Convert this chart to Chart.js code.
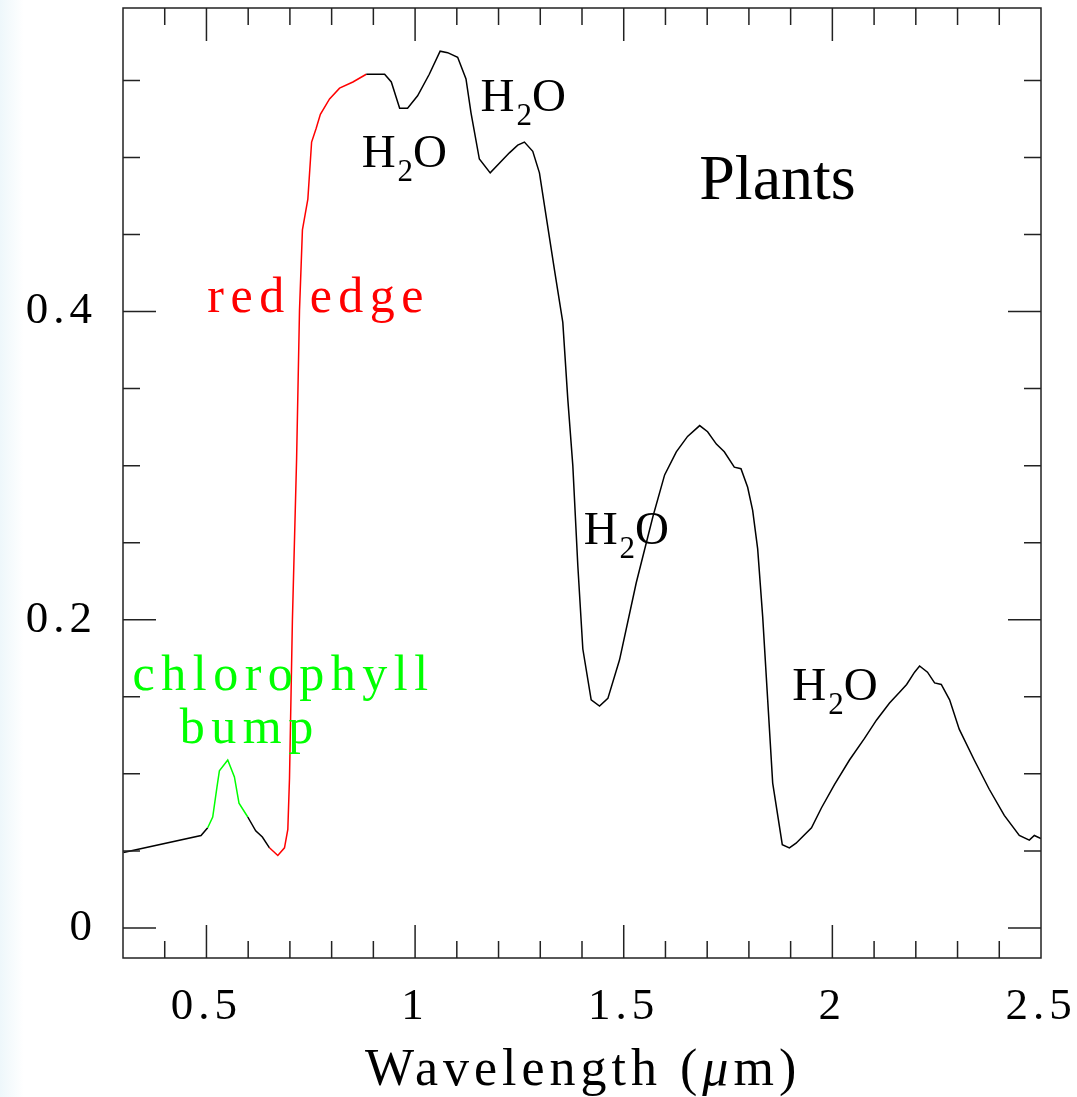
<!DOCTYPE html>
<html lang="en">
<head>
<meta charset="UTF-8">
<title>Plants</title>
<style>
    html, body { margin: 0; padding: 0; background: #fff; }
    canvas { display: block; }
</style>
</head>
<body>
<canvas id="myChart" width="1077" height="1097"></canvas>
<script src="https://cdn.jsdelivr.net/npm/chart.js"></script>
<script>
    // reflectance spectrum
    const wavelength = [
        0.301, 0.487, 0.503, 0.515, 0.525, 0.531, 0.551, 0.567, 0.578, 0.599,
        0.618, 0.634, 0.651, 0.671, 0.687, 0.695, 0.699, 0.706, 0.716, 0.723,
        0.730, 0.743, 0.752, 0.763, 0.773, 0.795, 0.819, 0.851, 0.883, 0.927,
        0.943, 0.963, 0.982, 1.006, 1.034, 1.060, 1.078, 1.102, 1.122, 1.134,
        1.154, 1.180, 1.226, 1.246, 1.262, 1.282, 1.298, 1.314, 1.334, 1.354,
        1.366, 1.378, 1.390, 1.402, 1.422, 1.442, 1.462, 1.490, 1.530, 1.570,
        1.598, 1.626, 1.653, 1.682, 1.701, 1.722, 1.741, 1.765, 1.781, 1.797,
        1.809, 1.821, 1.833, 1.845, 1.857, 1.880, 1.897, 1.913, 1.950, 1.974,
        2.005, 2.041, 2.077, 2.106, 2.137, 2.161, 2.178, 2.197, 2.209, 2.228,
        2.245, 2.261, 2.281, 2.304, 2.340, 2.376, 2.412, 2.448, 2.472, 2.484,
        2.500
    ];
    const reflectance = [
        0.049, 0.060, 0.065, 0.072, 0.091, 0.102, 0.109, 0.098, 0.081, 0.072,
        0.063, 0.059, 0.052, 0.047, 0.052, 0.064, 0.097, 0.200, 0.304, 0.401,
        0.453, 0.473, 0.510, 0.519, 0.528, 0.538, 0.545, 0.549, 0.554, 0.554,
        0.549, 0.532, 0.532, 0.540, 0.554, 0.569, 0.568, 0.565, 0.551, 0.529,
        0.499, 0.490, 0.503, 0.508, 0.510, 0.504, 0.490, 0.462, 0.427, 0.393,
        0.343, 0.300, 0.235, 0.181, 0.148, 0.144, 0.149, 0.174, 0.224, 0.267,
        0.294, 0.309, 0.319, 0.326, 0.322, 0.314, 0.309, 0.299, 0.298, 0.286,
        0.271, 0.246, 0.202, 0.148, 0.094, 0.054, 0.052, 0.055, 0.065, 0.078,
        0.093, 0.109, 0.123, 0.135, 0.146, 0.153, 0.158, 0.166, 0.170, 0.166,
        0.159, 0.158, 0.148, 0.129, 0.109, 0.090, 0.073, 0.060, 0.057, 0.060,
        0.058
    ];
    const xTickLabels = [0.5, 1, 1.5, 2, 2.5];
    const yTickLabels = [0, 0.2, 0.4];
    const greenRange = [0.5, 0.59];
    const redRange = [0.65, 0.87];

    // annotations: text and where it sits (data units, left/baseline)
    const h2oSpots = [[0.872, 0.494], [1.157, 0.530], [1.404, 0.249], [1.904, 0.148]];
    const notes = [
        { text: 'red edge', x: 0.502, y: 0.400, color: '#ff0000' },
        { text: 'chlorophyll', x: 0.323, y: 0.1545, color: '#00ff00' },
        { text: 'bump', x: 0.436, y: 0.120, color: '#00ff00' }
    ];
    const title = { text: 'Plants', x: 1.681, y: 0.473 };

    const points = wavelength.map((w, i) => ({ x: w, y: reflectance[i] }));

    function segColor(c) {
        const x = c.p0.parsed.x;
        if (x >= greenRange[0] && x < greenRange[1]) return '#00ff00';
        if (x >= redRange[0] && x < redRange[1]) return '#ff0000';
        return '#000000';
    }

    const serif = '"Liberation Serif", "Times New Roman", serif';

    function noPad(s) {
        s.paddingTop = 0; s.paddingBottom = 0;
        s.paddingLeft = 0; s.paddingRight = 0;
    }

    const framePlugin = {
        id: 'framePlugin',
        beforeDraw(chart) {
            const ctx = chart.ctx;
            ctx.save();
            const g = ctx.createLinearGradient(0, 0, 24, 0);
            g.addColorStop(0, '#eef7fb');
            g.addColorStop(1, '#ffffff');
            ctx.fillStyle = g;
            ctx.fillRect(0, 0, 24, chart.height);
            ctx.restore();
            ctx.letterSpacing = '5px';
        },
        afterDatasetsDraw(chart) {
            const { ctx, chartArea: a, scales: { x, y } } = chart;
            ctx.save();
            ctx.strokeStyle = '#222';
            ctx.lineWidth = 1.5;
            ctx.strokeRect(a.left, a.top, a.right - a.left, a.bottom - a.top);
            ctx.beginPath();
            for (let i = 4; i < 25; i++) {
                const px = x.getPixelForValue(i / 10);
                const len = i % 5 === 0 ? 33 : 17;
                ctx.moveTo(px, a.bottom); ctx.lineTo(px, a.bottom - len);
                ctx.moveTo(px, a.top); ctx.lineTo(px, a.top + len);
            }
            for (let i = 0; i <= 11; i++) {
                const py = y.getPixelForValue(i * 0.05);
                const len = i % 4 === 0 ? 33 : 17;
                ctx.moveTo(a.left, py); ctx.lineTo(a.left + len, py);
                ctx.moveTo(a.right, py); ctx.lineTo(a.right - len, py);
            }
            ctx.stroke();

            ctx.textAlign = 'left';
            ctx.textBaseline = 'alphabetic';

            // H2O labels
            ctx.fillStyle = '#000';
            ctx.letterSpacing = '0px';
            h2oSpots.forEach(([wx, wy]) => {
                let px = x.getPixelForValue(wx);
                const py = y.getPixelForValue(wy);
                ctx.font = '47px ' + serif;
                ctx.fillText('H', px, py);
                px += ctx.measureText('H').width + 2;
                ctx.font = '31px ' + serif;
                ctx.fillText('2', px, py + 14);
                px += ctx.measureText('2').width;
                ctx.font = '47px ' + serif;
                ctx.fillText('O', px, py);
            });

            // coloured notes
            ctx.font = '50px ' + serif;
            ctx.letterSpacing = '6.5px';
            notes.forEach(n => {
                ctx.fillStyle = n.color;
                ctx.fillText(n.text, x.getPixelForValue(n.x), y.getPixelForValue(n.y));
            });

            ctx.letterSpacing = '0px';
            ctx.fillStyle = '#000';
            ctx.font = '64px ' + serif;
            ctx.fillText(title.text, x.getPixelForValue(title.x), y.getPixelForValue(title.y));

            // axis title
            ctx.font = '52px ' + serif;
            ctx.letterSpacing = '5px';
            let tx = 365;
            const ty = 1085;
            ctx.fillText('Wavelength (', tx, ty);
            tx += ctx.measureText('Wavelength (').width;
            ctx.font = 'italic 52px ' + serif;
            ctx.fillText('\u03bc', tx, ty);
            tx += ctx.measureText('\u03bc').width;
            ctx.font = '52px ' + serif;
            ctx.fillText('m)', tx, ty);
            ctx.restore();
        }
    };

    const ctx = document.getElementById('myChart');
    const myChart = new Chart(ctx, {
        type: 'line',
        data: {
            datasets: [{
                data: points,
                borderColor: '#000',
                borderWidth: 1.5,
                pointRadius: 0,
                tension: 0,
                fill: false,
                segment: { borderColor: segColor }
            }]
        },
        options: {
            responsive: false,
            animation: false,
            devicePixelRatio: 1,
            layout: { padding: { top: 8, right: 36, left: 0, bottom: 0 } },
            plugins: { legend: { display: false }, tooltip: { enabled: false } },
            scales: {
                x: {
                    type: 'linear',
                    min: 0.3,
                    max: 2.5,
                    afterFit: s => { s.height = 139; noPad(s); },
                    afterBuildTicks: s => { s.ticks = xTickLabels.map(v => ({ value: v })); },
                    grid: { display: false, drawTicks: false },
                    border: { display: false },
                    ticks: {
                        color: '#000', padding: 22, maxRotation: 0,
                        font: { family: serif, size: 45 },
                        callback: v => String(v)
                    }
                },
                y: {
                    type: 'linear',
                    min: -0.0195,
                    max: 0.597,
                    afterFit: s => { s.width = 123; noPad(s); },
                    afterBuildTicks: s => { s.ticks = yTickLabels.map(v => ({ value: v })); },
                    grid: { display: false, drawTicks: false },
                    border: { display: false },
                    ticks: {
                        color: '#000', padding: 26,
                        font: { family: serif, size: 45 },
                        callback: v => String(v)
                    }
                }
            }
        },
        plugins: [framePlugin]
    });
</script>
</body>
</html>
